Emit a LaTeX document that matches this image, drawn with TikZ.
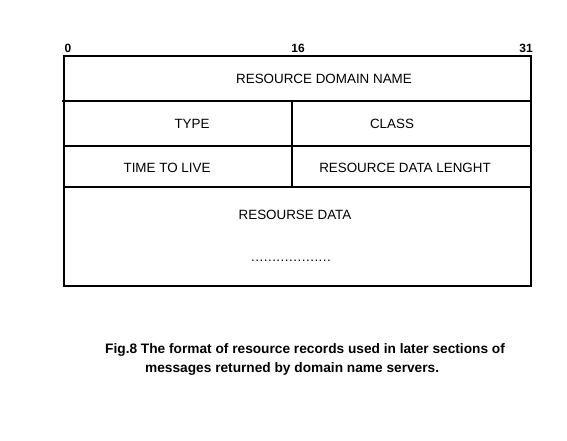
\documentclass[tikz,border=0pt]{standalone}
\usepackage{fontspec}
\setmainfont{Liberation Sans}
\begin{document}
\begin{tikzpicture}[x=1pt,y=-1pt,
  frame/.style={line width=2pt},
  lbl/.style={inner sep=0pt,font=\fontsize{13.4}{15}\selectfont},
  bitlbl/.style={inner sep=0pt,font=\bfseries\fontsize{12}{14}\selectfont},
  captext/.style={inner sep=0pt,anchor=west,font=\bfseries\fontsize{13.7}{15}\selectfont}]
\useasboundingbox (0,0) rectangle (567,440);
\coordinate (tl) at (64,56);
\coordinate (br) at (531,286);
\draw[frame] (tl) rectangle (br);
\coordinate (r1l) at (62,101); \coordinate (r1r) at (531,101);
\coordinate (r2l) at (64,146); \coordinate (r2r) at (531,146);
\coordinate (r3l) at (64,187); \coordinate (r3r) at (531,187);
\coordinate (vt) at (292,101); \coordinate (vb) at (292,188);
\draw[frame] (r1l) -- (r1r);
\draw[frame] (r2l) -- (r2r);
\draw[frame] (r3l) -- (r3r);
\draw[frame] (vt) -- (vb);
\node[bitlbl] (b0) at (68,48) {0};
\node[bitlbl] (b16) at (298,48) {16};
\node[bitlbl] (b31) at (526,48) {31};
\node[lbl] (rdn) at (324,79) {RESOURCE DOMAIN NAME};
\node[lbl] (type) at (192,124) {TYPE};
\node[lbl] (class) at (392,124) {CLASS};
\node[lbl] (ttl) at (167,168) {TIME TO LIVE};
\node[lbl] (rdl) at (405,168) {RESOURCE DATA LENGHT};
\node[lbl] (rd) at (295,215) {RESOURSE DATA};
\node[lbl] (dots) at (291,261) {.\kern0.5pt.\kern0.5pt.\kern0.5pt.\kern0.5pt.\kern0.5pt.\kern0.5pt.\kern0.5pt.\kern0.5pt.\kern0.5pt.\kern0.5pt.\kern0.5pt.\kern0.5pt.\kern0.5pt.\kern0.5pt.\kern0.5pt.\kern0.5pt.\kern0.5pt.\kern0.5pt.};
\node[captext] (c1) at (105,350) {Fig.8 The format of resource records used in later sections of};
\node[captext] (c2) at (145,369) {messages returned by domain name servers.};
\end{tikzpicture}
\end{document}
